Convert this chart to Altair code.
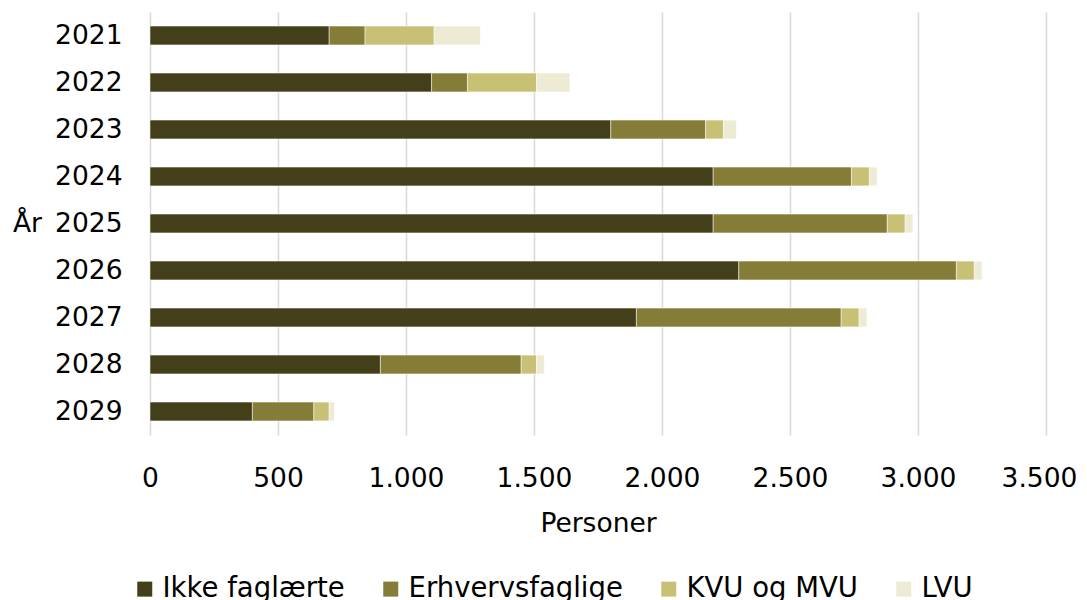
import altair as alt
import pandas as pd

years = ["2021", "2022", "2023", "2024", "2025", "2026", "2027", "2028", "2029"]
series = ["Ikke faglærte", "Erhvervsfaglige", "KVU og MVU", "LVU"]
ikke = [700, 1100, 1800, 2200, 2200, 2300, 1900, 900, 400]
erhv = [140, 140, 370, 540, 680, 850, 800, 550, 240]
kvu = [270, 270, 70, 70, 70, 70, 70, 60, 60]
lvu = [180, 130, 50, 30, 30, 30, 30, 30, 20]
colors = ["#433F1B", "#857D37", "#C8C175", "#EDEBD3"]
x_ticks = [0, 500, 1000, 1500, 2000, 2500, 3000, 3500]

rows = []
for si, (name, vals) in enumerate(zip(series, [ikke, erhv, kvu, lvu])):
    for y, v in zip(years, vals):
        rows.append({"År": y, "Serie": name, "Personer": v, "ordre": si})
df = pd.DataFrame(rows)

FONT = "DejaVu Sans"
FS = 26.5

chart = alt.Chart(df).mark_bar(stroke="white", strokeWidth=0.5).encode(
    y=alt.Y("År:N", sort=years,
            scale=alt.Scale(paddingInner=0.6, paddingOuter=0.3),
            axis=alt.Axis(title="År", ticks=False, domain=False, grid=False,
                          labelPadding=28, labelFontSize=FS, labelFont=FONT,
                          labelColor="#000000", titleColor="#000000",
                          titleFont=FONT, titleFontSize=FS, titleFontWeight="normal",
                          titleAngle=0, titleAlign="center", titleBaseline="middle",
                          titleX=-123, titleY=211.5)),
    x=alt.X("Personer:Q", stack="zero",
            scale=alt.Scale(domain=[0, 3500], nice=False),
            axis=alt.Axis(title="Personer", values=x_ticks, ticks=False, domain=False,
                          grid=True, gridColor="#D9D9D9", gridWidth=1.5,
                          labelExpr="replace(format(datum.value, ','), ',', '.')",
                          labelFontSize=FS, labelFont=FONT, labelColor="#000000",
                          labelBaseline="alphabetic", labelPadding=51,
                          labelFlush=False, labelOverlap=False,
                          labelOffset={"condition": {"test": "datum.value == 3500", "value": -7},
                                       "value": 0},
                          titleColor="#000000", titleFont=FONT, titleFontSize=FS,
                          titleFontWeight="normal", titleBaseline="alphabetic",
                          titleY=96)),
    color=alt.Color("Serie:N", sort=series,
                    scale=alt.Scale(domain=series, range=colors),
                    legend=alt.Legend(title=None, orient="none", direction="horizontal",
                                      columns=4, legendX=-19, legendY=563,
                                      symbolType="square", symbolSize=225,
                                      symbolStrokeWidth=0, labelOffset=4,
                                      columnPadding=32, labelFontSize=27.5,
                                      labelLimit=0,
                                      labelFont=FONT, labelColor="#000000")),
    order=alt.Order("ordre:Q", sort="ascending"),
).properties(
    width=896, height=423,
    autosize=alt.AutoSizeParams(type="none"),
    padding={"left": 142, "top": 4, "right": 33, "bottom": 165},
).configure_view(stroke=None)

chart.save("out.html", embed_options={"renderer": "svg", "actions": False})
